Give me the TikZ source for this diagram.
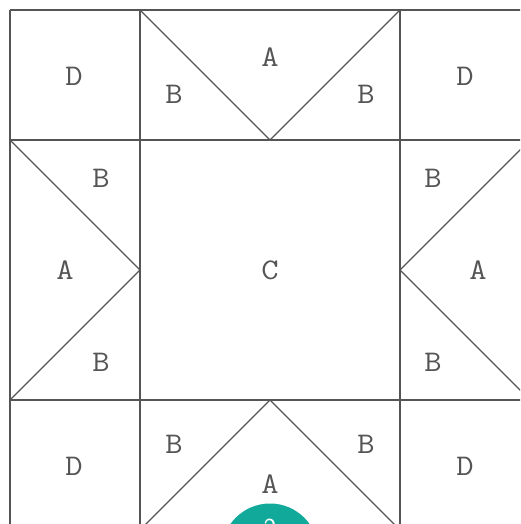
\documentclass[tikz,border=0pt]{standalone}
\usepackage{fontspec}
\newfontfamily\lblfont[FakeStretch=1.12]{Latin Modern Mono}
\definecolor{ln}{HTML}{555555}
\definecolor{teal2}{HTML}{11A99A}
\begin{document}
\begin{tikzpicture}[x=1pt,y=-1pt,
  edge/.style={draw=ln,line width=1.2pt},
  lbl/.style={text=ln,font=\lblfont\fontsize{30}{30}\selectfont,inner sep=0pt,anchor=center}]
\useasboundingbox (0,0) rectangle (520,524);
\begin{scope}
\clip (0,0) rectangle (520,524);
% grid
\draw[edge] (10,10) -- (540,10);
\draw[edge] (10,140) -- (540,140);
\draw[edge] (10,400) -- (540,400);
\draw[edge] (10,10) -- (10,540);
\draw[edge] (140,10) -- (140,540);
\draw[edge] (400,10) -- (400,540);
% diagonals
\draw[edge] (140,10) -- (270,140) -- (400,10);
\draw[edge] (10,140) -- (140,270) -- (10,400);
\draw[edge] (530,140) -- (400,270) -- (530,400);
\draw[edge] (140,530) -- (270,400) -- (400,530);
% badge
\fill[teal2] (270,552) circle (48.5);
\node[text=white,font=\sffamily\fontsize{26}{26}\selectfont,anchor=north] (n2) at (270,515) {2};
\end{scope}
% labels
\node[lbl] (d1) at (74,76) {D};
\node[lbl] (b1) at (174,94) {B};
\node[lbl] (a1) at (270,57) {A};
\node[lbl] (b2) at (366,94) {B};
\node[lbl] (d2) at (465,76) {D};
\node[lbl] (b3) at (101,178) {B};
\node[lbl] (a2) at (65,270) {A};
\node[lbl] (b4) at (101,362) {B};
\node[lbl] (c) at (270,270) {C};
\node[lbl] (b5) at (433,178) {B};
\node[lbl] (a3) at (478,270) {A};
\node[lbl] (b6) at (433,362) {B};
\node[lbl] (d3) at (74,466) {D};
\node[lbl] (b7) at (174,444) {B};
\node[lbl] (a4) at (270,484) {A};
\node[lbl] (b8) at (366,444) {B};
\node[lbl] (d4) at (465,466) {D};
\end{tikzpicture}
\end{document}
